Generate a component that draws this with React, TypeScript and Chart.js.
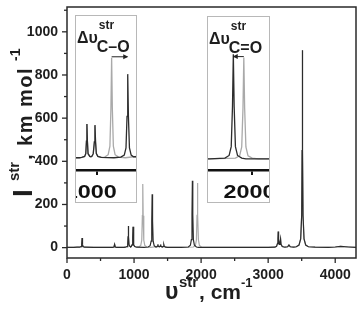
import { useEffect, useRef } from 'react';
import { Chart, registerables } from 'chart.js';

Chart.register(...registerables);

const FONT = '"Liberation Sans", Arial, Helvetica, sans-serif';

// ---- data (wavenumber, intensity) ----
const blackX = [0, 100, 150, 190, 210, 219, 225, 231, 240, 260, 400, 600, 680, 700, 710, 720, 740, 850, 870, 895, 905, 911, 915, 919, 925, 940, 950, 960, 970, 980, 985, 990, 997, 1010, 1040, 1150, 1210, 1240, 1255, 1264, 1270, 1276, 1285, 1300, 1320, 1340, 1350, 1355, 1360, 1375, 1390, 1395, 1400, 1420, 1440, 1445, 1450, 1470, 1500, 1700, 1810, 1840, 1855, 1864, 1870, 1876, 1885, 1900, 1930, 1960, 2500, 3000, 3100, 3125, 3140, 3146, 3150, 3155, 3165, 3175, 3185, 3192, 3210, 3250, 3290, 3310, 3330, 3380, 3420, 3460, 3485, 3500, 3506, 3510, 3514, 3520, 3535, 3560, 3600, 3700, 3900, 4000, 4080, 4200, 4310];
const blackY = [1, 1, 2, 2, 5, 14, 45, 14, 5, 2, 1, 1, 1, 3, 15, 3, 1, 1, 2, 5, 13, 50, 100, 50, 13, 5, 4, 6, 13, 48, 97, 48, 13, 5, 2, 1, 3, 9, 30, 123, 247, 123, 30, 9, 4, 4, 7, 15, 7, 4, 7, 15, 7, 3, 6, 12, 6, 2, 1, 1, 3, 11, 37, 155, 310, 155, 37, 11, 3, 1, 1, 1, 2, 6, 20, 40, 75, 35, 15, 20, 40, 15, 5, 2, 4, 12, 4, 2, 4, 12, 40, 150, 450, 915, 450, 150, 40, 12, 4, 2, 1, 3, 6, 3, 1];

const grayX = [0, 100, 150, 190, 210, 219, 225, 231, 240, 260, 400, 600, 680, 700, 710, 720, 740, 850, 870, 895, 905, 911, 915, 919, 925, 940, 950, 960, 970, 980, 985, 990, 997, 1010, 1040, 1070, 1100, 1115, 1124, 1130, 1136, 1145, 1160, 1190, 1250, 1320, 1340, 1350, 1355, 1360, 1375, 1390, 1395, 1400, 1420, 1440, 1445, 1450, 1470, 1500, 1700, 1885, 1915, 1930, 1939, 1945, 1951, 1960, 1975, 2005, 2050, 2500, 3000, 3100, 3125, 3140, 3146, 3150, 3155, 3165, 3175, 3185, 3192, 3210, 3250, 3290, 3310, 3330, 3380, 3420, 3460, 3485, 3500, 3506, 3510, 3514, 3520, 3535, 3560, 3600, 3700, 3900, 4000, 4080, 4200, 4310];
const grayY = [1, 1, 2, 2, 5, 14, 45, 14, 5, 2, 1, 1, 1, 3, 15, 3, 1, 1, 2, 5, 13, 50, 100, 50, 13, 5, 4, 6, 13, 48, 97, 48, 13, 5, 2, 3, 10, 35, 148, 295, 148, 35, 10, 3, 1, 4, 4, 7, 15, 7, 4, 7, 15, 7, 3, 6, 12, 6, 2, 1, 1, 3, 10, 36, 150, 300, 150, 36, 10, 3, 1, 1, 1, 2, 6, 20, 40, 75, 35, 15, 20, 40, 15, 5, 2, 4, 12, 4, 2, 4, 12, 40, 150, 450, 915, 450, 150, 40, 12, 4, 2, 1, 3, 6, 3, 1];

// ---- axes ----
const xRange = [0, 4310];
const yRange = [-48, 1115];
const xTicks = [0, 1000, 2000, 3000, 4000];
const xMinorTicks = [500, 1500, 2500, 3500];
const yTicks = [0, 200, 400, 600, 800, 1000];
const yMinorTicks = [100, 300, 500, 700, 900, 1100];

// insets: x range, y range, tick, arrow [from, to, level]
const inset1X = [820, 1342];
const inset1Y = [-35, 418];
const inset1Tick = [1000];
const inset1Arrow = [1130, 1266, 298];
const inset2X = [1689, 2125];
const inset2Y = [-32, 420];
const inset2Tick = [2000];
const inset2Arrow = [1945, 1873, 303];

const BLACK = '#2c2c2c';
const GRAY = '#a9a9a9';

type Part = { t: string; size: number; dy: number; at: number; ls?: number };

function drawParts(ctx: any, parts: Part[], x: number, y: number) {
  for (const p of parts) {
    ctx.font = `bold ${p.size}px ${FONT}`;
    ctx.letterSpacing = `${p.ls || 0}px`;
    ctx.fillText(p.t, x + p.at, y + p.dy);
  }
  ctx.letterSpacing = '0px';
}

function pts(xs: number[], ys: number[]) {
  return xs.map((x, i) => ({ x, y: ys[i] }));
}

const mainDecor = {
  id: 'mainDecor',
  afterDraw(chart: any) {
    const { ctx, chartArea: a, scales } = chart;
    const sx = scales.x;
    const sy = scales.y;
    ctx.save();
    ctx.strokeStyle = '#2a2a2a';
    ctx.lineWidth = 1.5;
    ctx.strokeRect(a.left, a.top, a.right - a.left, a.bottom - a.top);
    ctx.lineWidth = 1.3;
    const tick = (x1: number, y1: number, x2: number, y2: number) => {
      ctx.beginPath();
      ctx.moveTo(x1, y1);
      ctx.lineTo(x2, y2);
      ctx.stroke();
    };
    xTicks.forEach((v) => { const p = sx.getPixelForValue(v); tick(p, a.bottom, p, a.bottom + 5); });
    xMinorTicks.forEach((v) => { const p = sx.getPixelForValue(v); tick(p, a.bottom, p, a.bottom + 3); });
    yTicks.forEach((v) => { const p = sy.getPixelForValue(v); tick(a.left, p, a.left - 5, p); });
    yMinorTicks.forEach((v) => { const p = sy.getPixelForValue(v); tick(a.left, p, a.left - 3, p); });

    ctx.fillStyle = '#1e1e1e';
    ctx.textBaseline = 'alphabetic';
    ctx.textAlign = 'left';
    // x title
    drawParts(ctx, [
      { t: 'υ', size: 23, dy: 0, at: 0 },
      { t: 'str', size: 15, dy: -12, at: 14 },
      { t: ', cm', size: 21, dy: 0, at: 34 },
      { t: '-1', size: 13, dy: -12, at: 76 },
    ], 165, 299);
    // y title
    ctx.save();
    ctx.translate(31.5, 197);
    ctx.rotate(-Math.PI / 2);
    drawParts(ctx, [
      { t: 'I', size: 28, dy: 0, at: 0 },
      { t: 'str', size: 15, dy: -13, at: 16 },
      { t: ', km mol', size: 20, dy: 0, at: 37, ls: 1.5 },
      { t: '-1', size: 14, dy: -12, at: 136 },
    ], 0, 0);
    ctx.restore();
    ctx.restore();
  },
};

function insetPlugin(arrow: number[], sub: string, tick: number[], lblOff: number) {
  return {
    id: 'insetDecor',
    afterDraw(chart: any) {
      const { ctx, scales, chartArea } = chart;
      const sx = scales.x;
      const sy = scales.y;
      const x1 = sx.getPixelForValue(arrow[0]);
      const x2 = sx.getPixelForValue(arrow[1]);
      const py = sy.getPixelForValue(arrow[2]);
      ctx.save();
      ctx.strokeStyle = '#222';
      ctx.fillStyle = '#222';
      ctx.lineWidth = 1;
      ctx.beginPath();
      ctx.moveTo(x1, py);
      ctx.lineTo(x2, py);
      ctx.stroke();
      const dir = Math.sign(x2 - x1);
      ctx.beginPath();
      ctx.moveTo(x2 + dir * 1, py);
      ctx.lineTo(x2 - dir * 4, py - 2.5);
      ctx.lineTo(x2 - dir * 4, py + 2.5);
      ctx.closePath();
      ctx.fill();
      // label
      ctx.fillStyle = '#1e1e1e';
      ctx.textBaseline = 'alphabetic';
      ctx.textAlign = 'left';
      ctx.font = `bold 16px ${FONT}`;
      ctx.fillText('Δυ', 1, 27);
      const w = ctx.measureText('Δυ').width;
      ctx.font = `bold 12px ${FONT}`;
      ctx.fillText('str', 1 + w + 1, 13);
      ctx.font = `bold 16px ${FONT}`;
      ctx.fillText(sub, w, 36);
      // tick label (wide bold digits)
      ctx.fillStyle = '#111';
      ctx.font = `bold 18px ${FONT}`;
      ctx.textAlign = 'center';
      tick.forEach((v) => {
        ctx.save();
        ctx.translate(sx.getPixelForValue(v) + lblOff, chartArea.bottom + 28);
        ctx.scale(1.3, 1);
        ctx.fillText(String(v), 0, 0);
        ctx.restore();
      });
      ctx.restore();
    },
  };
}

function makeInset(canvas: HTMLCanvasElement, xr: number[], yr: number[], tick: number[], arrow: number[], sub: string, lblOff: number) {
  return new Chart(canvas, {
    type: 'line',
    data: {
      datasets: [
        { data: pts(blackX, blackY), borderColor: BLACK, borderWidth: 1.3, pointRadius: 0, tension: 0 },
        { data: pts(grayX, grayY), borderColor: GRAY, borderWidth: 1.3, pointRadius: 0, tension: 0 },
      ],
    },
    options: {
      animation: false,
      responsive: false,
      maintainAspectRatio: false,
      events: [],
      layout: { padding: 0 },
      plugins: { legend: { display: false }, tooltip: { enabled: false } },
      scales: {
        x: {
          type: 'linear',
          min: xr[0],
          max: xr[1],
          afterBuildTicks: (s: any) => { s.ticks = tick.map((v) => ({ value: v })); },
          afterFit: (s: any) => { s.height = 32; s.paddingLeft = 0; s.paddingRight = 0; },
          grid: { display: true, drawOnChartArea: false, drawTicks: true, tickLength: 5, lineWidth: 2, color: '#111' },
          border: { display: true, width: 2.5, color: '#111' },
          ticks: { display: false },
        },
        y: { type: 'linear', display: false, min: yr[0], max: yr[1] },
      },
    },
    plugins: [insetPlugin(arrow, sub, tick, lblOff)],
  } as any);
}

export default function App() {
  const mainRef = useRef<HTMLCanvasElement>(null);
  const in1Ref = useRef<HTMLCanvasElement>(null);
  const in2Ref = useRef<HTMLCanvasElement>(null);

  useEffect(() => {
    const main = new Chart(mainRef.current!, {
      type: 'line',
      data: {
        datasets: [
          { data: pts(blackX, blackY), borderColor: BLACK, borderWidth: 1.2, pointRadius: 0, tension: 0 },
          { data: pts(grayX, grayY), borderColor: GRAY, borderWidth: 1.2, pointRadius: 0, tension: 0 },
        ],
      },
      options: {
        animation: false,
        responsive: false,
        maintainAspectRatio: false,
        events: [],
        layout: { padding: { top: 7, right: 7, left: 0, bottom: 0 } },
        plugins: { legend: { display: false }, tooltip: { enabled: false } },
        scales: {
          x: {
            type: 'linear',
            min: xRange[0],
            max: xRange[1],
            afterBuildTicks: (s: any) => { s.ticks = xTicks.map((v) => ({ value: v })); },
            afterFit: (s: any) => { s.height = 53; s.paddingLeft = 0; s.paddingRight = 0; },
            grid: { display: false, drawTicks: false },
            border: { display: false },
            ticks: {
              autoSkip: false,
              maxRotation: 0,
              padding: 9,
              color: '#1e1e1e',
              font: { family: FONT, size: 14, weight: 'bold' },
              callback: (v: any) => String(v),
            },
          },
          y: {
            type: 'linear',
            min: yRange[0],
            max: yRange[1],
            afterBuildTicks: (s: any) => { s.ticks = yTicks.map((v) => ({ value: v })); },
            afterFit: (s: any) => { s.width = 67; s.paddingTop = 0; s.paddingBottom = 0; },
            grid: { display: false, drawTicks: false },
            border: { display: false },
            ticks: {
              autoSkip: false,
              padding: 9,
              color: '#1e1e1e',
              font: { family: FONT, size: 14, weight: 'bold' },
              callback: (v: any) => String(v),
            },
          },
        },
      },
      plugins: [mainDecor],
    } as any);
    const c1 = makeInset(in1Ref.current!, inset1X, inset1Y, inset1Tick, inset1Arrow, 'C–O', -6);
    const c2 = makeInset(in2Ref.current!, inset2X, inset2Y, inset2Tick, inset2Arrow, 'C=O', -2);
    return () => {
      main.destroy();
      c1.destroy();
      c2.destroy();
    };
  }, []);

  return (
    <div style={{ position: 'absolute', left: 0, top: 0, width: 363, height: 311, background: '#fff' }}>
      <canvas ref={mainRef} width={363} height={311} style={{ position: 'absolute', left: 0, top: 0, width: 363, height: 311 }} />
      <div style={{ position: 'absolute', left: 75, top: 15, width: 60, height: 186, border: '1px solid #b8b8b8', background: '#fff' }}>
        <canvas ref={in1Ref} width={60} height={186} style={{ display: 'block', width: 60, height: 186 }} />
      </div>
      <div style={{ position: 'absolute', left: 207, top: 16, width: 61, height: 185, border: '1px solid #b8b8b8', background: '#fff' }}>
        <canvas ref={in2Ref} width={61} height={185} style={{ display: 'block', width: 61, height: 185 }} />
      </div>
    </div>
  );
}
